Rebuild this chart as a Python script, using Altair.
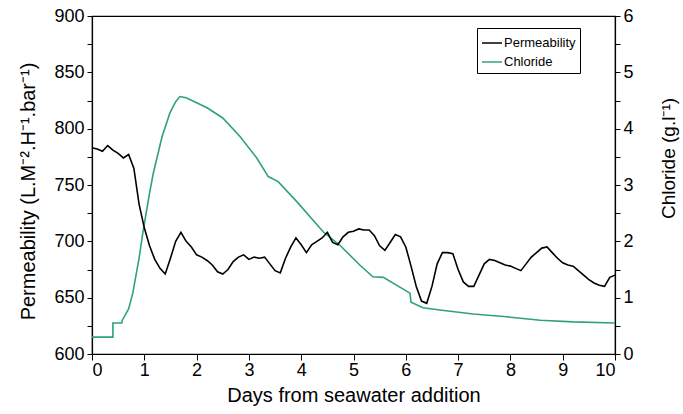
import altair as alt
import pandas as pd

# Permeability (L.M-2.H-1.bar-1), sampled every 0.1 day
perm_days = [round(i * 0.1, 1) for i in range(101)]
perm_vals = [783, 782, 780, 785, 781, 778, 774, 777, 765, 733,
             712, 696, 684, 676, 671, 685, 700, 708, 700, 695,
             688, 686, 683, 679, 673, 671, 675, 682, 686, 688,
             684, 686, 685, 686, 680, 674, 672, 685, 695, 703,
             697, 690, 697, 700, 703, 708, 699, 697, 704, 708,
             709, 711, 710, 710, 705, 696, 692, 699, 706, 704,
             695, 678, 660, 647, 645, 660, 680, 690, 690, 689,
             675, 664, 660, 660, 670, 680, 684, 683, 681, 679,
             678, 676, 674, 680, 686, 690, 694, 695, 690, 685,
             681, 679, 678, 674, 670, 666, 663, 661, 660, 668,
             670]

# Chloride (g/l)
chl_days = [0.0, 0.40, 0.40, 0.57, 0.58, 0.70, 0.78, 0.90, 0.98, 1.10,
            1.17, 1.34, 1.49, 1.60, 1.68, 1.80, 2.00, 2.20, 2.50, 2.83,
            3.15, 3.37, 3.56, 3.92, 4.42, 4.74, 5.12, 5.37, 5.57, 6.08,
            6.10, 6.33, 6.65, 7.29, 7.93, 8.57, 9.20, 10.0]
chl_vals = [0.30, 0.30, 0.55, 0.55, 0.60, 0.80, 1.08, 1.70, 2.20, 2.85,
            3.20, 3.86, 4.28, 4.48, 4.57, 4.55, 4.46, 4.37, 4.19, 3.86,
            3.48, 3.15, 3.06, 2.70, 2.17, 1.93, 1.58, 1.37, 1.36, 1.08,
            0.92, 0.82, 0.78, 0.71, 0.66, 0.60, 0.57, 0.55]

perm_df = pd.DataFrame({"day": perm_days, "value": perm_vals, "series": "Permeability"})
chl_df = pd.DataFrame({"day": chl_days, "value": chl_vals, "series": "Chloride"})

FONT = "Liberation Sans"
color = alt.Color(
    "series:N",
    scale=alt.Scale(domain=["Permeability", "Chloride"], range=["#000000", "#2fa277"]),
    legend=alt.Legend(
        title=None, orient="none", legendX=385, legendY=12,
        symbolType="stroke", symbolStrokeWidth=1.5, symbolSize=400,
        labelFontSize=13, labelFont=FONT, labelColor="#000000", labelOffset=1,
        strokeColor="#000000", fillColor="white", padding=4, rowPadding=1,
    ),
)

xenc = alt.X(
    "day:Q",
    scale=alt.Scale(domain=[0, 10], nice=False),
    axis=alt.Axis(values=list(range(11)), title="Days from seawater addition",
                  grid=False, tickSize=6, labelPadding=1, titlePadding=6,
                  titleFontSize=20),
)

perm = alt.Chart(perm_df).mark_line(strokeWidth=1.6).encode(
    x=xenc,
    y=alt.Y("value:Q", scale=alt.Scale(domain=[600, 900], nice=False, zero=False),
            axis=alt.Axis(values=list(range(600, 901, 25)),
                          labelExpr="datum.value % 50 == 0 ? datum.label : ''",
                          title="Permeability (L.M⁻².H⁻¹.bar⁻¹)", grid=False,
                          tickSize=5, labelPadding=3, titleFontSize=20,
                          titleAngle=270, titleX=-64, titleY=175,
                          titleAlign="center", titleBaseline="middle")),
    color=color,
)

chl = alt.Chart(chl_df).mark_line(strokeWidth=1.6).encode(
    x=xenc,
    y=alt.Y("value:Q", scale=alt.Scale(domain=[0, 6], nice=False),
            axis=alt.Axis(orient="right", values=[i * 0.5 for i in range(13)],
                          labelExpr="datum.value % 1 == 0 ? format(datum.value, 'd') : ''",
                          title="Chloride (g.l⁻¹)", grid=False, tickSize=5,
                          labelPadding=3, titleFontSize=19,
                          titleAngle=270, titleX=53, titleY=142,
                          titleAlign="center", titleBaseline="middle")),
    color=color,
)

chart = alt.layer(chl, perm).resolve_scale(y="independent").properties(
    width=523, height=338,
    autosize=alt.AutoSizeParams(type="none"),
    padding={"left": 92, "top": 16, "right": 68, "bottom": 60},
).configure_axis(
    labelFont=FONT, titleFont=FONT, labelFontSize=18, titleFontSize=19,
    titleFontWeight="normal", labelColor="#000000", titleColor="#000000",
    domainColor="#000000", tickColor="#000000", domainWidth=1.2, tickWidth=1,
).configure_view(stroke="#000000", strokeWidth=1.2)

chart.save("out.html", embed_options={"renderer": "svg", "actions": False})
